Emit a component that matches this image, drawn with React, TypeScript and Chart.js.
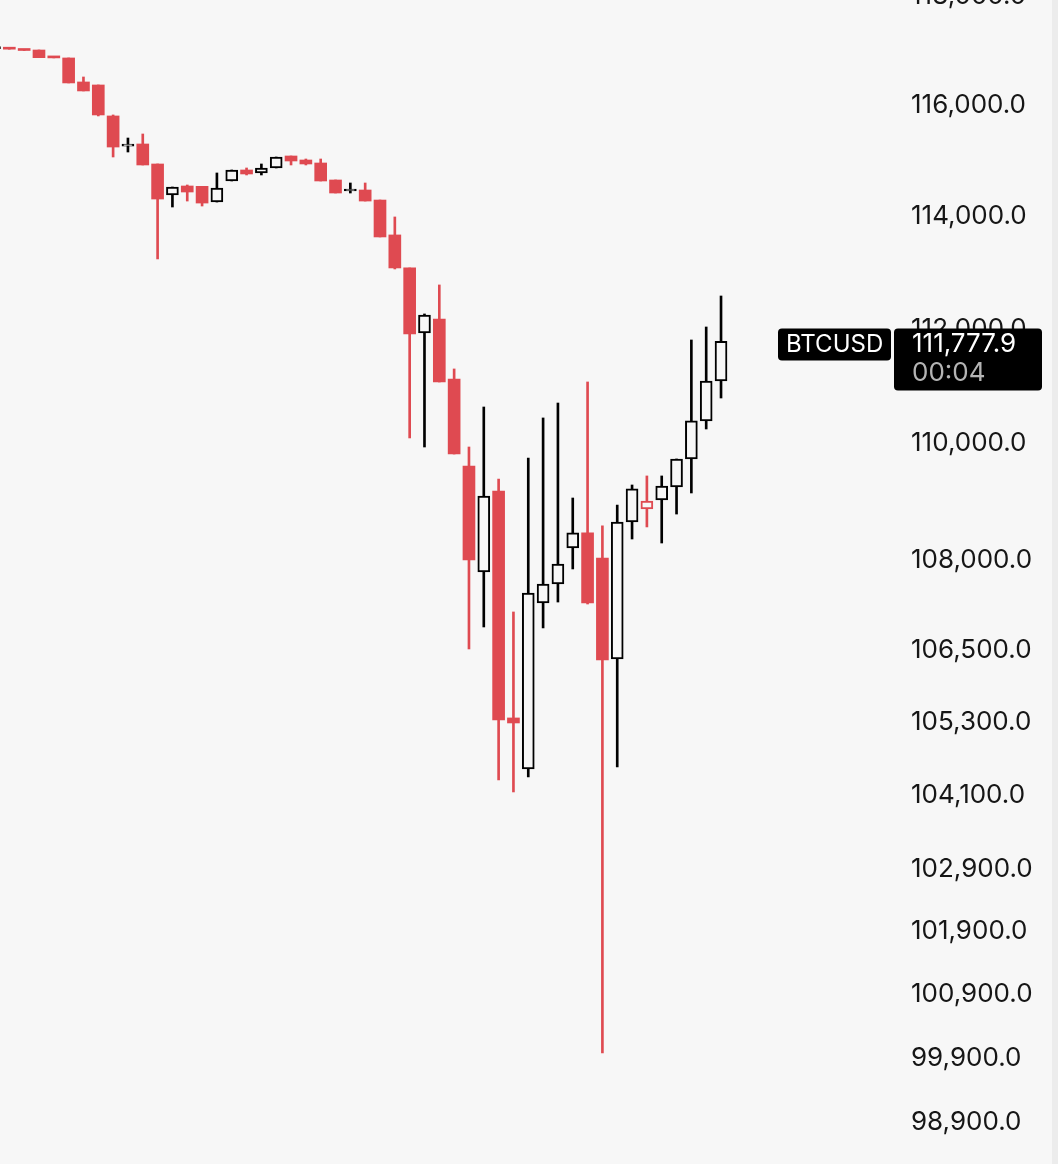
import React, { useEffect, useRef } from "react";
import { Chart, registerables } from "chart.js";

Chart.register(...registerables);

// Candle data (BTCUSD), one entry per bar, left to right
const OPEN = [
  117030, 117030, 117014, 117005, 116880, 116859, 116420, 116365, 115801, 115255,
  115293, 114932, 114374, 114536, 114530, 114248, 114626, 114824, 114770, 114860,
  115076, 115004, 114950, 114644, 114446, 114464, 114284, 113660, 113073, 111926,
  112172, 111121, 109615, 107808, 109186, 105368, 104529, 107285, 107605, 108214,
  108470, 108045, 106347, 108657, 108878, 109032, 109255, 109736, 110392, 111086,
];
const HIGH = [
  117045, 117030, 117014, 117005, 116880, 116859, 116511, 116365, 115819, 115401,
  115474, 114932, 114518, 114554, 114530, 114770, 114824, 114860, 114932, 115058,
  115076, 115022, 115022, 114644, 114590, 114590, 114284, 113981, 113073, 112260,
  112772, 111296, 109942, 110634, 109392, 107134, 109753, 110444, 110703, 109066,
  111069, 108589, 108946, 109289, 109444, 109444, 109736, 111803, 112031, 112577,
];
const LOW = [
  117030, 117020, 116996, 116864, 116860, 116402, 116256, 115801, 115058, 115148,
  114914, 113233, 114159, 114266, 114177, 114248, 114626, 114734, 114734, 114860,
  114914, 114914, 114626, 114410, 114410, 114266, 113624, 113055, 110098, 109942,
  111069, 109821, 106514, 106882, 104349, 104152, 104398, 106866, 107301, 107859,
  107268, 99974, 104562, 108367, 108572, 108299, 108792, 109152, 110253, 110790,
];
const CLOSE = [
  117045, 117020, 116996, 116864, 116860, 116402, 116256, 115819, 115238, 115255,
  114914, 114302, 114518, 114428, 114230, 114500, 114824, 114752, 114860, 115058,
  114986, 114932, 114626, 114410, 114446, 114266, 113624, 113073, 111908, 112242,
  111069, 109821, 108011, 109101, 105335, 105285, 107453, 107605, 107943, 108470,
  107285, 106331, 108657, 109221, 109015, 109272, 109736, 110392, 111086, 111777.9,
];

// Price-axis tick values
const PRICE_TICKS = [
  118000, 116000, 114000, 112000, 110000, 108000, 106500, 105300, 104100, 102900,
  101900, 100900, 99900, 98900,
];

const SYMBOL = "BTCUSD";
const LAST_PRICE_TEXT = "111,777.9";
const COUNTDOWN_TEXT = "00:04";

const RED = "#df4a51";
const BLACK = "#000000";
const BG = "#f7f7f7";
const FONT = "Inter, 'Noto Sans', sans-serif";

function roundRect(ctx: CanvasRenderingContext2D, x: number, y: number, w: number, h: number, r: number) {
  ctx.beginPath();
  ctx.moveTo(x + r, y);
  ctx.lineTo(x + w - r, y);
  ctx.quadraticCurveTo(x + w, y, x + w, y + r);
  ctx.lineTo(x + w, y + h - r);
  ctx.quadraticCurveTo(x + w, y + h, x + w - r, y + h);
  ctx.lineTo(x + r, y + h);
  ctx.quadraticCurveTo(x, y + h, x, y + h - r);
  ctx.lineTo(x, y + r);
  ctx.quadraticCurveTo(x, y, x + r, y);
  ctx.closePath();
}

const lastPricePlugin = {
  id: "lastPrice",
  afterDraw(chart: any) {
    const ctx: CanvasRenderingContext2D = chart.ctx;
    const yScale = chart.scales.y;
    const area = chart.chartArea;
    const yc = yScale.getPixelForValue(CLOSE[CLOSE.length - 1]) + 2;
    ctx.save();
    ctx.fillStyle = "#000";
    roundRect(ctx, area.right - 115, yc - 15, 113, 32, 4);
    ctx.fill();
    roundRect(ctx, area.right + 1, yc - 15, 148, 62, 4);
    ctx.fill();
    ctx.textBaseline = "middle";
    ctx.textAlign = "left";
    ctx.fillStyle = "#ffffff";
    ctx.font = `24px ${FONT}`;
    ctx.fillText(SYMBOL, area.right - 107, yc + 1);
    ctx.font = `26px ${FONT}`;
    ctx.fillText(LAST_PRICE_TEXT, area.right + 19, yc + 1);
    ctx.fillStyle = "#b4b4b4";
    ctx.fillText(COUNTDOWN_TEXT, area.right + 19, yc + 30);
    ctx.restore();
  },
};

export default function App() {
  const canvasRef = useRef<HTMLCanvasElement | null>(null);

  useEffect(() => {
    const canvas = canvasRef.current;
    if (!canvas) return;

    const colors = CLOSE.map((c, i) => (i === 0 || c >= CLOSE[i - 1] ? BLACK : RED));
    const filled = CLOSE.map((c, i) => c < OPEN[i]);
    const fills = colors.map((col, i) => (filled[i] ? col : BG));
    const borders = filled.map((f) => (f ? 0 : 2));

    const chart = new Chart(canvas, {
      type: "bar",
      data: {
        datasets: [
          {
            label: "wick",
            data: HIGH.map((h, i) => ({ x: i, y: [LOW[i], h] })) as any,
            backgroundColor: colors,
            borderWidth: 0,
            barThickness: 2,
            grouped: false,
            order: 2,
          } as any,
          {
            label: "body",
            data: OPEN.map((o, i) => ({ x: i, y: [o, CLOSE[i]] })) as any,
            backgroundColor: fills,
            borderColor: colors,
            borderWidth: borders,
            borderSkipped: false,
            barThickness: 12,
            minBarLength: 2,
            grouped: false,
            order: 1,
          } as any,
        ],
      },
      options: {
        responsive: false,
        maintainAspectRatio: false,
        animation: false,
        events: [],
        layout: { padding: 0 },
        plugins: {
          legend: { display: false },
          tooltip: { enabled: false },
          title: { display: false },
        },
        scales: {
          x: {
            type: "linear",
            display: false,
            offset: false,
            min: 0.371,
            max: 60.599,
          },
          y: {
            type: "logarithmic",
            position: "right",
            bounds: "data",
            min: 98248.6,
            max: 118668.3,
            grid: { display: false, drawTicks: false },
            border: { display: false },
            ticks: {
              autoSkip: false,
              padding: 18,
              color: "#161616",
              font: { family: FONT, size: 26 },
              callback: (v: any) =>
                Number(v).toLocaleString("en-US", {
                  minimumFractionDigits: 1,
                  maximumFractionDigits: 1,
                }),
            },
            afterBuildTicks: (axis: any) => {
              axis.ticks = PRICE_TICKS.map((value) => ({ value }));
            },
            afterFit: (axis: any) => {
              axis.width = 165;
              axis.paddingTop = 0;
              axis.paddingBottom = 0;
            },
          } as any,
        },
      },
      plugins: [lastPricePlugin],
    });

    return () => chart.destroy();
  }, []);

  return (
    <div
      style={{
        position: "fixed",
        left: 0,
        top: 0,
        width: 1058,
        height: 1164,
        overflow: "hidden",
        background: BG,
      }}
    >
      <div
        style={{
          position: "absolute",
          right: 0,
          top: 0,
          width: 6,
          height: 1164,
          background: "#ececec",
        }}
      />
      <canvas
        ref={canvasRef}
        width={1058}
        height={1204}
        style={{ position: "absolute", left: 0, top: -40, width: 1058, height: 1204 }}
      />
    </div>
  );
}
